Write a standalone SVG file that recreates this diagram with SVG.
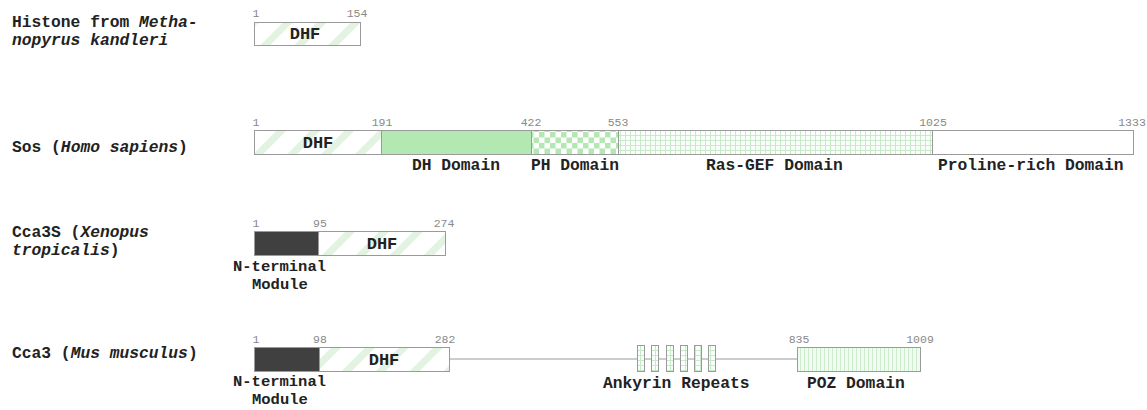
<svg xmlns="http://www.w3.org/2000/svg" width="1147" height="410" viewBox="0 0 1147 410">
<style>
.lbl{font-family:"Liberation Mono","Courier New",monospace;font-weight:bold;font-size:16.3px;fill:#222}
.nt{font-size:15.5px}
.dom{font-family:"Liberation Mono","Courier New",monospace;font-weight:bold;font-size:17px;fill:#222;text-anchor:middle}
.num{font-family:"Liberation Mono","Courier New",monospace;font-size:11.5px;fill:#888;text-anchor:middle}
.box{stroke:#9a9a9a;stroke-width:1}
.ln{stroke:#9a9a9a;stroke-width:1;fill:none}
</style>
<defs>
<pattern id="stripes" width="24" height="24" patternUnits="userSpaceOnUse" patternTransform="rotate(45)">
<rect width="24" height="24" fill="#fff"/>
<rect x="0" y="0" width="7" height="24" fill="#e2f3e2"/>
</pattern>
<pattern id="checker" width="11" height="11" patternUnits="userSpaceOnUse">
<rect width="11" height="11" fill="#fff"/>
<rect x="0" y="0" width="5.5" height="5.5" fill="#b3e8b3"/>
<rect x="5.5" y="5.5" width="5.5" height="5.5" fill="#b3e8b3"/>
</pattern>
<pattern id="grid" width="5" height="5" patternUnits="userSpaceOnUse">
<rect width="5" height="5" fill="#fbfffb"/>
<path d="M0 0.5H5M0.5 0V5" stroke="#c6ebc6" stroke-width="1"/>
</pattern>
<pattern id="vlines" width="4" height="4" patternUnits="userSpaceOnUse">
<rect width="4" height="4" fill="#f2fbf2"/>
<path d="M0.5 0V4" stroke="#cdeecd" stroke-width="1"/>
</pattern>
</defs>

<g id="connectors">
<line class="ln" x1="449" y1="359" x2="797" y2="359"/>
</g>

<g id="histone">
<text class="lbl" x="12" y="27">Histone from <tspan font-style="italic">Metha-</tspan></text>
<text class="lbl" x="12" y="45" font-style="italic">nopyrus kandleri</text>
<rect class="box" x="254.5" y="22.5" width="106" height="23" fill="url(#stripes)"/>
<text class="dom" x="305" y="39">DHF</text>
<text class="num" x="256" y="17">1</text>
<text class="num" x="357" y="17">154</text>
</g>

<g id="sos">
<text class="lbl" x="12" y="152">Sos (<tspan font-style="italic">Homo sapiens</tspan>)</text>
<rect class="box" x="254.5" y="130.5" width="127" height="24" fill="url(#stripes)"/>
<rect class="box" x="381.5" y="130.5" width="150" height="24" fill="#b3e8b3"/>
<rect class="box" x="531.5" y="130.5" width="87" height="24" fill="url(#checker)"/>
<rect class="box" x="618.5" y="130.5" width="314" height="24" fill="url(#grid)"/>
<rect class="box" x="932.5" y="130.5" width="201" height="24" fill="#fff"/>
<text class="dom" x="318" y="148">DHF</text>
<text class="num" x="256" y="126">1</text>
<text class="num" x="382" y="126">191</text>
<text class="num" x="531" y="126">422</text>
<text class="num" x="618" y="126">553</text>
<text class="num" x="933" y="126">1025</text>
<text class="num" x="1132" y="126">1333</text>
<text class="lbl" x="412" y="170">DH Domain</text>
<text class="lbl" x="531" y="170">PH Domain</text>
<text class="lbl" x="706" y="170">Ras-GEF Domain</text>
<text class="lbl" x="938" y="170">Proline-rich Domain</text>
</g>

<g id="cca3s">
<text class="lbl" x="12" y="237">Cca3S (<tspan font-style="italic">Xenopus</tspan></text>
<text class="lbl" x="12" y="255"><tspan font-style="italic">tropicalis</tspan>)</text>
<rect class="box" x="254.5" y="231.5" width="64" height="24" fill="#404040"/>
<rect class="box" x="318.5" y="231.5" width="127" height="24" fill="url(#stripes)"/>
<text class="dom" x="382" y="249">DHF</text>
<text class="num" x="256" y="227">1</text>
<text class="num" x="320" y="227">95</text>
<text class="num" x="444" y="227">274</text>
<text class="lbl nt" x="233" y="271">N-terminal</text>
<text class="lbl nt" x="252" y="289">Module</text>
</g>

<g id="cca3">
<text class="lbl" x="12" y="358">Cca3 (<tspan font-style="italic">Mus musculus</tspan>)</text>
<rect class="box" x="254.5" y="347.5" width="65" height="24" fill="#404040"/>
<rect class="box" x="319.5" y="347.5" width="130" height="24" fill="url(#stripes)"/>
<text class="dom" x="384" y="365">DHF</text>
<text class="num" x="256" y="343">1</text>
<text class="num" x="320" y="343">98</text>
<text class="num" x="445" y="343">282</text>
<text class="lbl nt" x="233" y="386">N-terminal</text>
<text class="lbl nt" x="252" y="404">Module</text>
</g>

<g id="ankyrin">
<rect class="box" x="637.5" y="345.5" width="7" height="26" fill="url(#grid)"/>
<rect class="box" x="651.5" y="345.5" width="7" height="26" fill="url(#grid)"/>
<rect class="box" x="666.5" y="345.5" width="7" height="26" fill="url(#grid)"/>
<rect class="box" x="680.5" y="345.5" width="7" height="26" fill="url(#grid)"/>
<rect class="box" x="694.5" y="345.5" width="7" height="26" fill="url(#grid)"/>
<rect class="box" x="708.5" y="345.5" width="7" height="26" fill="url(#grid)"/>
<text class="lbl" x="603" y="388">Ankyrin Repeats</text>
</g>

<g id="poz">
<rect class="box" x="797.5" y="347.5" width="123" height="24" fill="url(#vlines)"/>
<text class="num" x="799" y="343">835</text>
<text class="num" x="920" y="343">1009</text>
<text class="lbl" x="807" y="388">POZ Domain</text>
</g>
</svg>
